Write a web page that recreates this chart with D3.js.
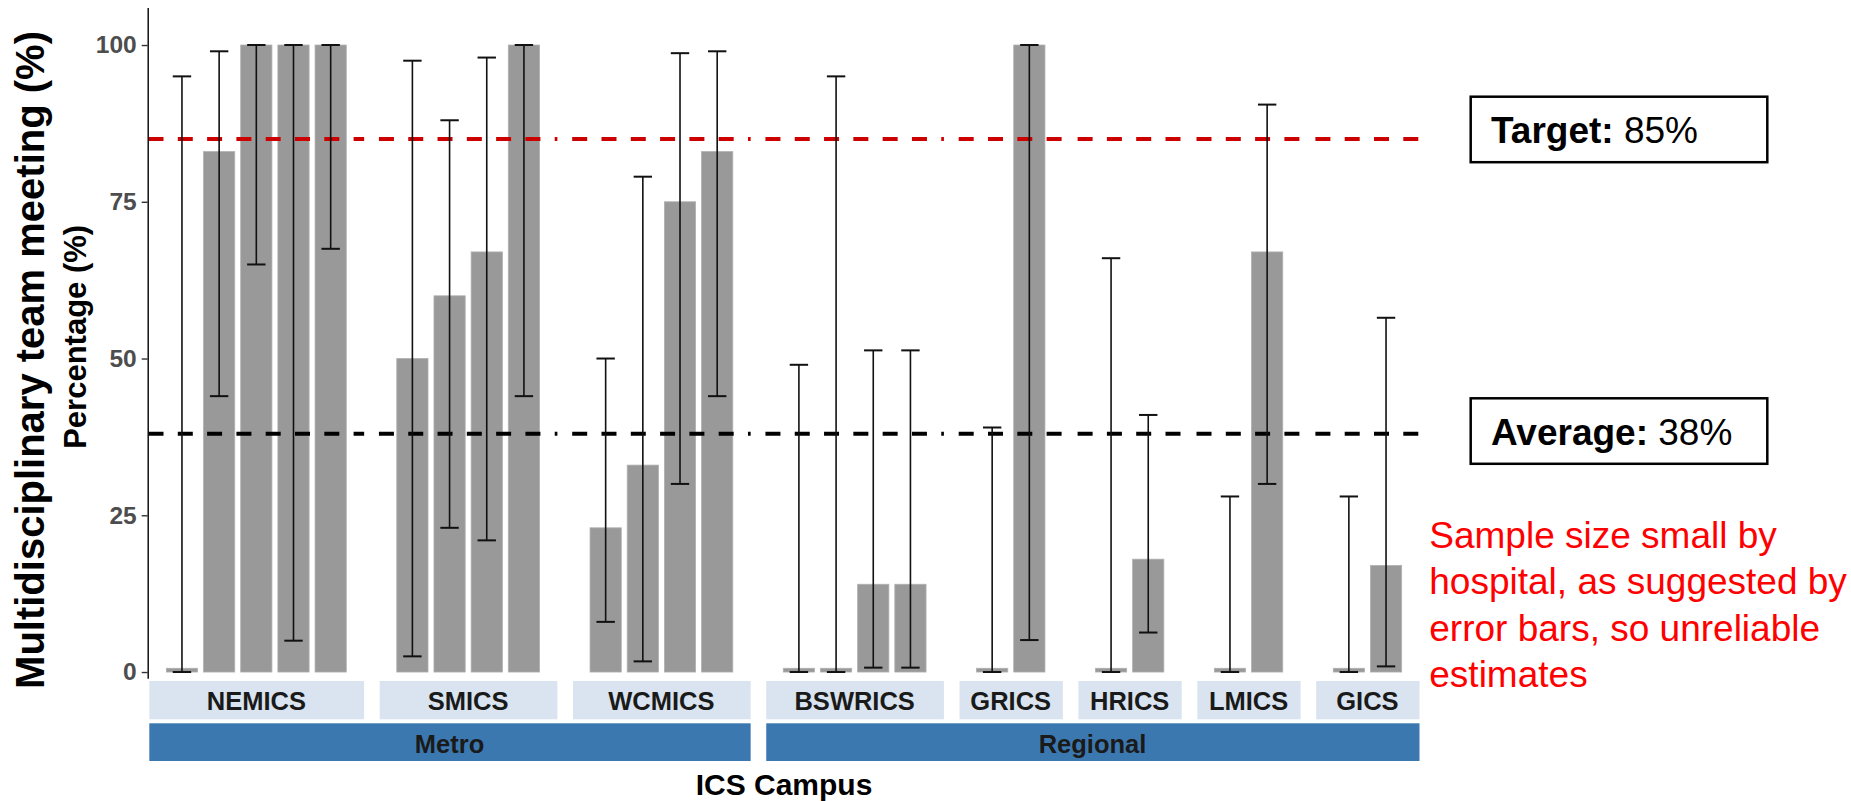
<!DOCTYPE html>
<html>
<head>
<meta charset="utf-8">
<script src="https://cdn.jsdelivr.net/npm/d3@7"></script>
<style>
  body { margin: 0; background: #fff; }
  svg { display: block; font-family: "Liberation Sans", Arial, sans-serif; }
</style>
</head>
<body>
<svg id="chart"></svg>
<script>
// campuses (facets) and the region each belongs to
var campusNames = ["NEMICS", "SMICS", "WCMICS", "BSWRICS", "GRICS", "HRICS", "LMICS", "GICS"];
var campusRegion = ["Metro", "Metro", "Metro", "Regional", "Regional", "Regional", "Regional", "Regional"];

// one entry per hospital bar
var barCampus = ["NEMICS", "NEMICS", "NEMICS", "NEMICS", "NEMICS",
                 "SMICS", "SMICS", "SMICS", "SMICS",
                 "WCMICS", "WCMICS", "WCMICS", "WCMICS",
                 "BSWRICS", "BSWRICS", "BSWRICS", "BSWRICS",
                 "GRICS", "GRICS", "HRICS", "HRICS", "LMICS", "LMICS", "GICS", "GICS"];
var pct    = [0.6, 83, 100, 100, 100,  50, 60, 67, 100,  23, 33, 75, 83,  0.6, 0.6, 14, 14,  0.6, 100, 0.6, 18, 0.6, 67, 0.6, 17];
var ciLow  = [0, 44, 65, 5, 67.5,  2.5, 23, 21, 44,  8, 1.7, 30, 44,  0, 0, 0.7, 0.7,  0, 5.1, 0, 6.3, 0, 30, 0, 0.9];
var ciHigh = [95, 99, 100, 100, 100,  97.5, 88, 98, 100,  50, 79, 98.7, 99,  49, 95, 51.3, 51.3,  39, 100, 66, 41, 28, 90.5, 28, 56.5];

var yTicks = [0, 25, 50, 75, 100];
var targetPct = 85, averagePct = 38;
var noteLines = ["Sample size small by", "hospital, as suggested by", "error bars, so unreliable", "estimates"];

var W = 1851, H = 801;
var svg = d3.select("#chart").attr("width", W).attr("height", H);
svg.append("rect").attr("width", W).attr("height", H).attr("fill", "#fff");

var plotLeft = 148.5, plotRight = 1419.5, gap = 14.8;

var y = d3.scaleLinear().domain([-1, 106]).range([678.3, 7.4]);

// facet layout (free x space)
var counts = campusNames.map(function (c) { return barCampus.filter(function (b) { return b === c; }).length; });
var units = d3.sum(counts, function (n) { return n + 0.8; });
var step = (plotRight - plotLeft - gap * (campusNames.length - 1)) / units;
var cursor = plotLeft;
var facets = campusNames.map(function (c, i) {
  var w = step * (counts[i] + 0.8);
  var f = { name: c, region: campusRegion[i], x0: cursor, x1: cursor + w };
  f.x = d3.scaleBand().domain(d3.range(counts[i])).range([f.x0, f.x1])
    .paddingInner(0.16).paddingOuter(0.48);
  cursor += w + gap;
  return f;
});
var facetByName = {};
facets.forEach(function (f) { facetByName[f.name] = f; });

var seen = {};
var rows = barCampus.map(function (c, i) {
  seen[c] = (seen[c] || 0);
  var r = { campus: c, k: seen[c], v: pct[i], lo: ciLow[i], hi: ciHigh[i] };
  seen[c] += 1;
  return r;
});
function cx(d) { var f = facetByName[d.campus]; return f.x(d.k) + f.x.bandwidth() / 2; }

// bars
svg.append("g").selectAll("rect").data(rows).enter().append("rect")
  .attr("x", function (d) { return facetByName[d.campus].x(d.k); })
  .attr("width", function (d) { return facetByName[d.campus].x.bandwidth(); })
  .attr("y", function (d) { return y(d.v); })
  .attr("height", function (d) { return y(0) - y(d.v); })
  .attr("fill", "#999999")
  .attr("stroke", "#b0b0b0").attr("stroke-width", 0.8);

// reference lines, one per panel
[{ v: targetPct, col: "#CD0000" }, { v: averagePct, col: "#000" }].forEach(function (l) {
  svg.append("g").selectAll("line").data(facets).enter().append("line")
    .attr("x1", function (f) { return f.x0; })
    .attr("x2", function (f) { return f.x1; })
    .attr("y1", y(l.v)).attr("y2", y(l.v))
    .attr("stroke", l.col).attr("stroke-width", 4)
    .attr("stroke-dasharray", "15 14.3");
});

// error bars
var eb = svg.append("g").attr("stroke", "#111");
eb.selectAll("line.v").data(rows).enter().append("line").attr("class", "v")
  .attr("x1", cx).attr("x2", cx)
  .attr("y1", function (d) { return y(d.lo); })
  .attr("y2", function (d) { return y(d.hi); })
  .attr("stroke-width", 1.6);
["lo", "hi"].forEach(function (key) {
  eb.selectAll("line." + key).data(rows).enter().append("line").attr("class", key)
    .attr("x1", function (d) { return cx(d) - 9.2; })
    .attr("x2", function (d) { return cx(d) + 9.2; })
    .attr("y1", function (d) { return y(d[key]); })
    .attr("y2", function (d) { return y(d[key]); })
    .attr("stroke-width", 2);
});

// y axis
var yAxis = svg.append("g")
  .attr("transform", "translate(" + 147.7 + ",0)")
  .call(d3.axisLeft(y).tickValues(yTicks).tickSize(6).tickSizeOuter(0).tickPadding(5));
yAxis.select(".domain").attr("stroke", "#000").attr("stroke-width", 1.4);
yAxis.selectAll(".tick line").attr("stroke", "#333").attr("stroke-width", 1.4);
yAxis.selectAll(".tick text")
  .attr("fill", "#4D4D4D").style("font-size", "24.5px").style("font-weight", "bold")
  .style("font-family", "'Liberation Sans', Arial, sans-serif");

// campus strips
var strips = svg.append("g");
strips.selectAll("rect").data(facets).enter().append("rect")
  .attr("x", function (f) { return f.x0 + 0.8; })
  .attr("width", function (f) { return f.x1 - f.x0 - 0.8; })
  .attr("y", 681).attr("height", 38.3)
  .attr("fill", "#D9E4F0");
strips.selectAll("text").data(facets).enter().append("text")
  .attr("x", function (f) { return (f.x0 + f.x1) / 2; })
  .attr("y", 710).attr("text-anchor", "middle")
  .attr("fill", "#1A1A1A").style("font-size", "25.5px").style("font-weight", "bold")
  .text(function (f) { return f.name; });

// region strips
var regions = d3.groups(facets, function (f) { return f.region; }).map(function (g) {
  return { name: g[0], x0: d3.min(g[1], function (f) { return f.x0; }), x1: d3.max(g[1], function (f) { return f.x1; }) };
});
var rs = svg.append("g");
rs.selectAll("rect").data(regions).enter().append("rect")
  .attr("x", function (r) { return r.x0 + 0.8; })
  .attr("width", function (r) { return r.x1 - r.x0 - 0.8; })
  .attr("y", 723.3).attr("height", 37.7)
  .attr("fill", "#3C78B0");
rs.selectAll("text").data(regions).enter().append("text")
  .attr("x", function (r) { return (r.x0 + r.x1) / 2; })
  .attr("y", 752.5).attr("text-anchor", "middle")
  .attr("fill", "#1A1A1A").style("font-size", "25.5px").style("font-weight", "bold")
  .text(function (r) { return r.name; });

// axis titles
svg.append("text")
  .attr("x", (plotLeft + plotRight) / 2).attr("y", 795)
  .attr("text-anchor", "middle").style("font-size", "30px").style("font-weight", "bold")
  .attr("fill", "#000").text("ICS Campus");

svg.append("text")
  .attr("transform", "translate(86," + ((y(-1) + y(106)) / 2 - 6) + ") rotate(-90)")
  .attr("text-anchor", "middle").style("font-size", "31px").style("font-weight", "bold")
  .attr("fill", "#000").text("Percentage (%)");

svg.append("text")
  .attr("transform", "translate(44,360) rotate(-90)")
  .attr("text-anchor", "middle").style("font-size", "40px").style("font-weight", "bold")
  .attr("fill", "#000").text("Multidisciplinary team meeting (%)");

// annotation boxes
[{ label: "Target:", v: targetPct, top: 96.7, base: 143.3 },
 { label: "Average:", v: averagePct, top: 398.3, base: 445 }].forEach(function (b) {
  svg.append("rect")
    .attr("x", 1470.7).attr("y", b.top).attr("width", 296.6).attr("height", 65.5)
    .attr("fill", "#fff").attr("stroke", "#000").attr("stroke-width", 2.5);
  var t = svg.append("text").attr("x", 1491).attr("y", b.base)
    .style("font-size", "37px").attr("fill", "#000");
  t.append("tspan").style("font-weight", "bold").text(b.label);
  t.append("tspan").text(" " + b.v + "%");
});

// note
svg.append("g").selectAll("text").data(noteLines).enter().append("text")
  .attr("x", 1429.3)
  .attr("y", function (d, i) { return 548 + i * 46.3; })
  .style("font-size", "37px").attr("fill", "#FF0000")
  .text(function (d) { return d; });
</script>
</body>
</html>
